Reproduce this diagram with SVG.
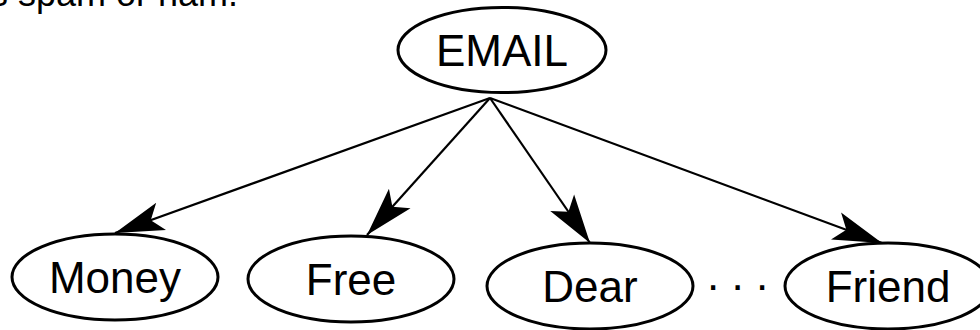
<svg xmlns="http://www.w3.org/2000/svg" width="980" height="330" viewBox="0 0 980 330">
  <style>
    .node ellipse { fill: #ffffff; stroke: #000000; stroke-width: 3; }
    .node text, .caption, .dots { font-family: "Liberation Sans", Arial, sans-serif; fill: #000000; }
    .node text { font-size: 44px; text-anchor: middle; }
    .edge { stroke: #000000; stroke-width: 2.2; fill: none; marker-end: url(#barb); }
  </style>
  <defs>
    <marker id="barb" markerUnits="userSpaceOnUse" viewBox="-52 -17 54 34" refX="0" refY="0" markerWidth="54" markerHeight="34" orient="auto">
      <path d="M0,0 L-49,-14.5 L-38,0 L-49,14.5 Z" fill="#000000"/>
    </marker>
  </defs>
  <rect width="980" height="330" fill="#ffffff"/>

  <!-- caption line running off the top edge -->
  <text class="caption" x="-18" y="6" font-size="36">is spam or ham.</text>

  <!-- connectors -->
  <g id="edges">
    <line class="edge" x1="490" y1="98" x2="115" y2="233"/>
    <line class="edge" x1="490" y1="98" x2="367" y2="235"/>
    <line class="edge" x1="490" y1="98" x2="590" y2="243"/>
    <line class="edge" x1="490" y1="98" x2="882" y2="243"/>
  </g>

  <g id="email" class="node">
    <ellipse cx="502" cy="50" rx="104" ry="42.5"/>
    <text x="502" y="66">EMAIL</text>
  </g>
  <g id="money" class="node">
    <ellipse cx="115" cy="277" rx="103" ry="43"/>
    <text x="115" y="293">Money</text>
  </g>
  <g id="free" class="node">
    <ellipse cx="351" cy="279" rx="103" ry="43"/>
    <text x="351" y="295">Free</text>
  </g>
  <g id="dear" class="node">
    <ellipse cx="590" cy="286" rx="103" ry="43"/>
    <text x="590" y="302">Dear</text>
  </g>
  <g id="friend" class="node">
    <ellipse cx="888" cy="286" rx="103" ry="43"/>
    <text x="888" y="302">Friend</text>
  </g>

  <text class="dots" x="707" y="290" font-size="44">. . .</text>
</svg>
